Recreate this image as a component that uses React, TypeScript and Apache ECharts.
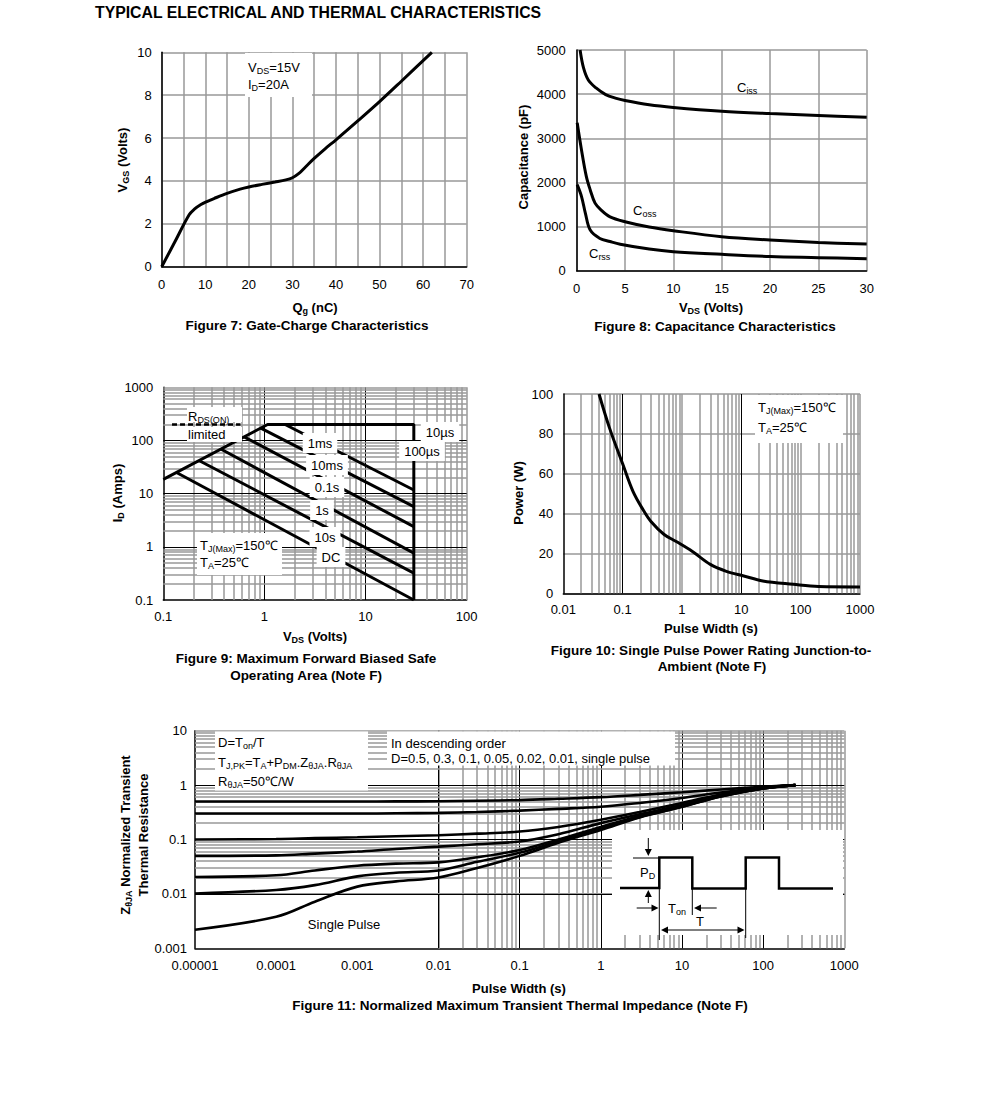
import React, { useEffect, useRef } from "react";
import * as echarts from "echarts";

const FONT = '"Liberation Sans", Arial, Helvetica, sans-serif';
const GRAY = "#999999";

const TITLE = "TYPICAL ELECTRICAL AND THERMAL CHARACTERISTICS";

// ---------- Figure 7: gate charge ----------
const qgNC = [0, 3, 6.3, 7.5, 9, 10.5, 12, 15, 18, 20, 23, 26, 28.5, 30, 31.5, 33, 35, 37.5, 40, 45, 50, 55, 62];
const vgsV = [0, 1.15, 2.42, 2.68, 2.9, 3.05, 3.18, 3.42, 3.62, 3.72, 3.84, 3.95, 4.05, 4.15, 4.35, 4.65, 5.05, 5.5, 5.92, 6.8, 7.7, 8.65, 10];
const fig7XLabels = [0, 10, 20, 30, 40, 50, 60, 70];

// ---------- Figure 8: capacitance ----------
const cissV = [0.35, 0.7, 1.2, 2, 3, 4, 5, 7.5, 10, 15, 20, 25, 30];
const cissPF = [5000, 4600, 4320, 4140, 3990, 3910, 3855, 3760, 3700, 3615, 3560, 3515, 3475];
const cossV = [0.05, 0.5, 1.0, 1.4, 1.9, 2.5, 3.45, 5, 7.5, 10, 15, 20, 25, 30];
const cossPF = [3350, 2730, 2130, 1830, 1530, 1380, 1220, 1110, 990, 906, 770, 695, 640, 604];
const crssV = [0.05, 0.5, 0.9, 1.4, 2.4, 3.45, 4.5, 7.5, 10, 15, 20, 25, 30];
const crssPF = [1950, 1680, 1300, 920, 730, 660, 600, 490, 430, 370, 320, 295, 270];

// ---------- Figure 9: SOA ----------
const soaBoundX = [0.1, 1.075, 30, 30];
const soaBoundY = [18.6, 200, 200, 0.1];
const rdsDashX = [0.122, 0.58];
const rdsDashY = [200, 200];
const soaNames = ["1ms", "10ms", "0.1s", "1s", "10s", "DC"];
const soaStartX = [1.6, 0.92, 0.63, 0.37, 0.225, 0.135];
const soaStartY = [200, 171, 117, 69, 42, 25];
const soaEndX = [30, 30, 30, 30, 30, 30];
const soaEndY = [11.7, 5.7, 2.4, 0.76, 0.32, 0.1];

// ---------- Figure 10: single pulse power ----------
const pwS = [0.04, 0.06, 0.1, 0.15, 0.22, 0.3, 0.5, 0.8, 1.5, 3, 5.6, 11, 23, 75, 200, 1000];
const powerW = [100, 83, 65, 51, 42, 36, 29.5, 26, 21, 14.5, 11, 8.7, 6.2, 4.5, 3.4, 3.2];

// ---------- Figure 11: transient thermal impedance ----------
const zx = [1e-5, 1e-4, 3e-4, 1e-3, 3e-3, 1e-2, 3e-2, 0.1, 0.3, 1, 3, 10, 30, 100, 250];
const zD05 = [0.5, 0.5, 0.5, 0.5, 0.502, 0.505, 0.515, 0.53, 0.56, 0.6, 0.66, 0.74, 0.83, 0.93, 1.0];
const zD03 = [0.3, 0.3, 0.3, 0.3, 0.303, 0.308, 0.32, 0.34, 0.365, 0.4, 0.47, 0.58, 0.73, 0.9, 1.0];
const zD01 = [0.1, 0.102, 0.106, 0.11, 0.115, 0.12, 0.128, 0.14, 0.17, 0.23, 0.32, 0.47, 0.67, 0.89, 1.0];
const zD005 = [0.05, 0.051, 0.055, 0.06, 0.067, 0.074, 0.082, 0.092, 0.125, 0.2, 0.29, 0.43, 0.64, 0.88, 1.0];
const zD002 = [0.0205, 0.022, 0.027, 0.033, 0.036, 0.038, 0.047, 0.064, 0.1, 0.17, 0.27, 0.41, 0.63, 0.87, 1.0];
const zD001 = [0.0102, 0.0118, 0.0145, 0.021, 0.0245, 0.027, 0.039, 0.057, 0.093, 0.16, 0.26, 0.4, 0.62, 0.87, 1.0];
const zSP = [0.0022, 0.0038, 0.0072, 0.0136, 0.017, 0.02, 0.03, 0.05, 0.087, 0.15, 0.255, 0.4, 0.62, 0.87, 1.0];

// ---------- helpers ----------
const zip = (xs: number[], ys: number[]) => xs.map((x, i) => [x, ys[i]]);

function rt(s: string): string {
  const out: string[] = [];
  const re = /_\{([^}]*)\}/g;
  let last = 0;
  let m: RegExpExecArray | null;
  while ((m = re.exec(s))) {
    if (m.index > last) out.push(`{n|${s.slice(last, m.index)}}`);
    out.push(`{s|${m[1]}}`);
    last = m.index + m[0].length;
  }
  if (last < s.length) out.push(`{n|${s.slice(last)}}`);
  return out.join("");
}

function rich(size: number, bold: boolean) {
  const w = bold ? "bold" : "normal";
  const ss = Math.round(size * 0.7);
  return {
    n: { fontFamily: FONT, fontSize: size, fontWeight: w, lineHeight: size + 3, fill: "#000", color: "#000" },
    s: { fontFamily: FONT, fontSize: ss, fontWeight: w, lineHeight: ss, padding: [size + 3 - ss, 0, 0, 0], fill: "#000", color: "#000" },
  };
}

function txt(x: number, y: number, s: string, o: any = {}) {
  const size = o.size || 13;
  const bold = !!o.bold;
  const style: any = {
    text: rt(s),
    rich: rich(size, bold),
    fontFamily: FONT,
    fontSize: size,
    fontWeight: bold ? "bold" : "normal",
    fill: "#000",
    align: o.align || "left",
    verticalAlign: "middle",
  };
  if (o.bg) {
    style.backgroundColor = "#fff";
    style.padding = o.pad || [2, 5, 2, 5];
  }
  return { type: "text", x, y, rotation: o.rot || 0, z: 110, silent: true, style };
}

const box = (x: number, y: number, w: number, h: number) => ({
  type: "rect", z: 100, silent: true, shape: { x, y, width: w, height: h }, style: { fill: "#fff" },
});
const ln = (x1: number, y1: number, x2: number, y2: number, w = 1) => ({
  type: "line", z: 112, silent: true, shape: { x1, y1, x2, y2 }, style: { stroke: "#000", lineWidth: w },
});
const tri = (pts: number[][]) => ({ type: "polygon", z: 112, silent: true, shape: { points: pts }, style: { fill: "#000" } });

const minors = (e0: number, e1: number) => {
  const r: number[] = [];
  for (let e = e0; e < e1; e++) for (let m = 2; m <= 9; m++) r.push(+(m * Math.pow(10, e)).toPrecision(6));
  return r;
};
const decs = (e0: number, e1: number) => {
  const r: number[] = [];
  for (let e = e0; e <= e1; e++) r.push(+Math.pow(10, e).toPrecision(6));
  return r;
};
const vL = (vals: number[], color: string, width: number) => vals.map((v) => ({ xAxis: v, lineStyle: { color, width, type: "solid" } }));
const hL = (vals: number[], color: string, width: number) => vals.map((v) => ({ yAxis: v, lineStyle: { color, width, type: "solid" } }));
const markGrid = (data: any[]) => ({
  silent: true, z: 1, symbol: ["none", "none"], label: { show: false }, emphasis: { disabled: true }, animation: false, data,
});

const logFmt = (v: number) => {
  const e = Math.round(Math.log10(v));
  return e < 0 ? Number(v).toFixed(-e) : String(Math.round(v));
};
const plainFmt = (v: number) => String(v);

const axisBase = (gridIndex: number, margin: number, formatter: any = plainFmt) => ({
  gridIndex,
  axisTick: { show: false },
  axisLine: { show: true, onZero: false, lineStyle: { color: "#000", width: 1.5 } },
  axisLabel: { fontFamily: FONT, fontSize: 13, color: "#000", margin, formatter },
});

const curve = (xi: number, data: number[][], extra: any = {}) => ({
  type: "line", xAxisIndex: xi, yAxisIndex: xi, data, symbol: "none", z: 3,
  lineStyle: { color: "#000", width: 3 }, silent: true, animation: false, ...extra,
});

function buildOption() {
  const grids = [
    { left: 161.7, top: 52.3, width: 305, height: 214.4 },
    { left: 576.7, top: 50, width: 290, height: 220.7 },
    { left: 163.3, top: 387.3, width: 303.4, height: 212.7 },
    { left: 563.3, top: 394, width: 296.7, height: 199.3 },
    { left: 195, top: 730.7, width: 649.3, height: 217.6 },
  ].map((g) => ({ ...g, containLabel: false, outerBoundsMode: "none", show: false }));

  const gridSplit = { show: true, lineStyle: { color: GRAY, width: 1.5 } };

  const xAxis: any[] = [
    { ...axisBase(0, 11, (v: number) => (fig7XLabels.includes(v) ? String(v) : "")), type: "value", min: 0, max: 70, interval: 5, splitLine: gridSplit },
    { ...axisBase(1, 11), type: "value", min: 0, max: 30, interval: 5, splitLine: gridSplit },
    { ...axisBase(2, 10, logFmt), type: "log", logBase: 10, min: 0.1, max: 100, splitLine: { show: false } },
    { ...axisBase(3, 10, logFmt), type: "log", logBase: 10, min: 0.01, max: 1000, splitLine: { show: false } },
    { ...axisBase(4, 11, logFmt), type: "log", logBase: 10, min: 0.00001, max: 1000, splitNumber: 8, splitLine: { show: false } },
  ];
  const yAxis: any[] = [
    { ...axisBase(0, 10), type: "value", min: 0, max: 10, interval: 2, splitLine: gridSplit },
    { ...axisBase(1, 11), type: "value", min: 0, max: 5000, interval: 1000, splitLine: gridSplit },
    { ...axisBase(2, 10, logFmt), type: "log", logBase: 10, min: 0.1, max: 1000, splitLine: { show: false } },
    { ...axisBase(3, 10), type: "value", min: 0, max: 100, interval: 20, splitLine: gridSplit },
    { ...axisBase(4, 8, logFmt), type: "log", logBase: 10, min: 0.001, max: 10, splitNumber: 4, splitLine: { show: false } },
  ];

  const SM = 0.35;
  const series: any[] = [];
  // Fig 7
  series.push(curve(0, zip(qgNC, vgsV), { smooth: SM }));
  // Fig 8
  series.push(curve(1, zip(cissV, cissPF), { smooth: SM }));
  series.push(curve(1, zip(cossV, cossPF), { smooth: SM }));
  series.push(curve(1, zip(crssV, crssPF), { smooth: SM }));
  // Fig 9
  const f9Grid = [
    ...vL(minors(-1, 2), GRAY, 1.5), ...vL([100], GRAY, 1.5), ...vL([1, 10], "#000", 1),
    ...hL(minors(-1, 3), GRAY, 1.5), ...hL([1000], GRAY, 1.5), ...hL([1, 10, 100], "#000", 1),
  ];
  series.push(curve(2, zip(soaBoundX, soaBoundY), { markLine: markGrid(f9Grid) }));
  series.push(curve(2, zip(rdsDashX, rdsDashY), { z: 105, lineStyle: { color: "#000", width: 2.5, type: [5, 3] } }));
  soaNames.forEach((_, i) => {
    series.push(curve(2, [[soaStartX[i], soaStartY[i]], [soaEndX[i], soaEndY[i]]]));
  });
  // Fig 10
  const f10Grid = [...vL([...minors(-2, 3), 1, 100, 1000], GRAY, 1.5), ...vL([0.1, 10], "#000", 1)];
  series.push(curve(3, zip(pwS, powerW), { smooth: SM, markLine: markGrid(f10Grid) }));
  // Fig 11
  const f11Grid = [
    ...vL(minors(-5, 3), GRAY, 1.5), ...vL([1000], GRAY, 1.5), ...vL(decs(-4, 2), "#000", 1),
    ...hL(minors(-3, 1), GRAY, 1.5), ...hL([10], GRAY, 1.5), ...hL(decs(-2, 0), "#000", 1),
  ];
  [zD05, zD03, zD01, zD005, zD002, zD001, zSP].forEach((ys, i) => {
    series.push(curve(4, zip(zx, ys), {
      smooth: SM, lineStyle: { color: "#000", width: 2.6 },
      ...(i === 0 ? { markLine: markGrid(f11Grid) } : {}),
    }));
  });

  // ---------- graphic ----------
  const g: any[] = [];
  g.push({ type: "text", x: 95, y: 12, z: 110, silent: true,
    style: { text: TITLE, fontFamily: FONT, fontSize: 15.8, fontWeight: "bold", fill: "#000", align: "left", verticalAlign: "middle" } });

  // Fig 7
  g.push(box(245, 53, 67, 44));
  g.push(txt(248, 67, "V_{DS}=15V"));
  g.push(txt(248, 84, "I_{D}=20A"));
  g.push(txt(315, 307, "Q_{g} (nC)", { bold: true, align: "center" }));
  g.push(txt(122, 160, "V_{GS} (Volts)", { bold: true, align: "center", rot: Math.PI / 2 }));
  g.push(txt(307, 325, "Figure 7: Gate-Charge Characteristics", { bold: true, size: 13.5, align: "center" }));

  // Fig 8
  g.push(txt(737, 87, "C_{iss}"));
  g.push(txt(633, 210, "C_{oss}"));
  g.push(txt(589, 253, "C_{rss}"));
  g.push(txt(711, 307, "V_{DS} (Volts)", { bold: true, align: "center" }));
  g.push(txt(523, 157, "Capacitance (pF)", { bold: true, align: "center", rot: Math.PI / 2 }));
  g.push(txt(715, 326, "Figure 8: Capacitance Characteristics", { bold: true, size: 13.5, align: "center" }));

  // Fig 9
  g.push(box(187, 407, 55, 15));
  g.push(box(187, 427, 55, 15));
  g.push(txt(188, 416, "R_{DS(ON)}"));
  g.push(txt(188, 434, "limited"));
  g.push(box(197, 533, 85, 42));
  g.push(txt(200, 545, "T_{J(Max)}=150℃"));
  g.push(txt(200, 562, "T_{A}=25℃"));
  const lblPos = [[320, 443], [327, 465], [327, 487], [322, 510], [325, 537], [331, 557]];
  soaNames.forEach((n, i) => g.push(txt(lblPos[i][0], lblPos[i][1], n, { align: "center", bg: true })));
  g.push(txt(440, 432, "10µs", { align: "center", bg: true }));
  g.push(txt(422, 451, "100µs", { align: "center", bg: true }));
  g.push(txt(315, 636, "V_{DS} (Volts)", { bold: true, align: "center" }));
  g.push(txt(117, 493, "I_{D} (Amps)", { bold: true, align: "center", rot: Math.PI / 2 }));
  g.push(txt(306, 658, "Figure 9: Maximum Forward Biased Safe", { bold: true, size: 13.5, align: "center" }));
  g.push(txt(306, 675, "Operating Area (Note F)", { bold: true, size: 13.5, align: "center" }));

  // Fig 10
  g.push(box(755, 395, 88, 48));
  g.push(txt(758, 407, "T_{J(Max)}=150℃"));
  g.push(txt(758, 427, "T_{A}=25℃"));
  g.push(txt(711, 628, "Pulse Width (s)", { bold: true, align: "center" }));
  g.push(txt(518, 493, "Power (W)", { bold: true, align: "center", rot: Math.PI / 2 }));
  g.push(txt(711, 650, "Figure 10: Single Pulse Power Rating Junction-to-", { bold: true, size: 13.5, align: "center" }));
  g.push(txt(712, 666, "Ambient (Note F)", { bold: true, size: 13.5, align: "center" }));

  // Fig 11
  g.push(box(215, 731.5, 153, 59));
  g.push(txt(218, 742, "D=T_{on}/T"));
  g.push(txt(218, 762, "T_{J,PK}=T_{A}+P_{DM}.Z_{θJA}.R_{θJA}"));
  g.push(txt(218, 781, "R_{θJA}=50℃/W"));
  g.push(box(387, 731.5, 288, 34));
  g.push(txt(391, 743, "In descending order"));
  g.push(txt(391, 758, "D=0.5, 0.3, 0.1, 0.05, 0.02, 0.01, single pulse"));
  g.push(txt(344, 924, "Single Pulse", { align: "center", bg: true, pad: [2, 4, 2, 4] }));
  // inset
  g.push(box(612, 830, 231, 105));
  g.push({ type: "polyline", z: 112, silent: true,
    shape: { points: [[620, 888], [659.3, 888], [659.3, 857.5], [692.3, 857.5], [692.3, 888.5], [745.7, 888.5], [745.7, 857.5], [779, 857.5], [779, 888.5], [833, 888.5]] },
    style: { stroke: "#000", lineWidth: 2.5, fill: null } });
  g.push(ln(633, 858, 659, 858));
  g.push(ln(648.3, 838, 648.3, 850));
  g.push(tri([[644.8, 849], [651.8, 849], [648.3, 856]]));
  g.push(ln(648.3, 897, 648.3, 903));
  g.push(tri([[644.8, 897], [651.8, 897], [648.3, 890]]));
  g.push(ln(659.3, 888, 659.3, 940));
  g.push(ln(692.3, 889, 692.3, 915));
  g.push(ln(745.7, 889, 745.7, 938));
  g.push(ln(636.7, 908, 652, 908));
  g.push(tri([[651.5, 904.5], [651.5, 911.5], [658.5, 908]]));
  g.push(ln(701, 908, 716.7, 908));
  g.push(tri([[701, 904.5], [701, 911.5], [694, 908]]));
  g.push(ln(667, 930, 738, 930));
  g.push(tri([[668, 926.5], [668, 933.5], [661, 930]]));
  g.push(tri([[737.5, 926.5], [737.5, 933.5], [744.5, 930]]));
  g.push(txt(640, 872, "P_{D}"));
  g.push(txt(668, 908, "T_{on}"));
  g.push(txt(700, 921, "T", { align: "center" }));

  g.push(txt(519, 988, "Pulse Width (s)", { bold: true, align: "center" }));
  g.push(txt(520, 1005, "Figure 11: Normalized Maximum Transient Thermal Impedance (Note F)", { bold: true, size: 13.5, align: "center" }));
  g.push(txt(125, 835, "Z_{θJA} Normalized Transient", { bold: true, align: "center", rot: Math.PI / 2 }));
  g.push(txt(143, 835, "Thermal Resistance", { bold: true, align: "center", rot: Math.PI / 2 }));

  return {
    animation: false,
    backgroundColor: "#fff",
    textStyle: { fontFamily: FONT },
    grid: grids,
    xAxis,
    yAxis,
    series,
    graphic: { elements: g },
  };
}

export default function App() {
  const ref = useRef<HTMLDivElement>(null);
  useEffect(() => {
    if (!ref.current) return;
    const chart = echarts.init(ref.current, null, { renderer: "svg" });
    chart.setOption(buildOption() as any);
    return () => chart.dispose();
  }, []);
  return (
    <div
      ref={ref}
      style={{ position: "absolute", left: 0, top: 0, width: 991, height: 1114, background: "#fff" }}
    />
  );
}
